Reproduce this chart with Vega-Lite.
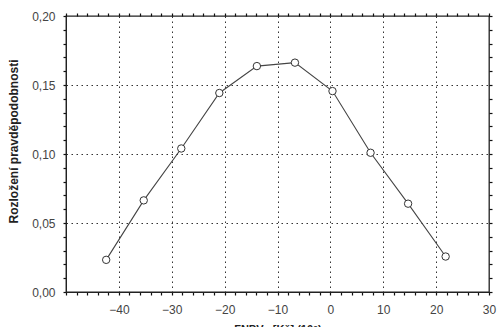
{
  "$schema": "https://vega.github.io/schema/vega-lite/v6.json",
  "width": 423,
  "height": 276,
  "autosize": "none",
  "padding": {"left": 66, "top": 16, "right": 8, "bottom": 36},
  "background": "white",
  "title": {"text": "Rozložení pravděpodobnosti FNPVc", "fontSize": 13, "font": "Liberation Sans", "fontWeight": "bold", "offset": 11, "dx": -24, "color": "#111"},
  "config": {
    "view": {"stroke": "#222", "strokeWidth": 1.3},
    "axis": {"domainColor": "#222", "tickColor": "#111", "tickWidth": 1.2, "gridColor": "#333", "gridDash": [1.5, 3.5], "gridWidth": 1, "labelFont": "Liberation Sans", "labelFontSize": 12, "labelColor": "#444", "titleFont": "Liberation Sans", "titleFontSize": 11, "titleFontWeight": "bold", "titleColor": "#222"}
  },
  "data": {"values": [
    {"x": -42.4, "p": 0.0233},
    {"x": -35.3, "p": 0.0664},
    {"x": -28.2, "p": 0.104},
    {"x": -21.0, "p": 0.1442},
    {"x": -13.9, "p": 0.1637},
    {"x": -6.7, "p": 0.1662},
    {"x": 0.4, "p": 0.1456},
    {"x": 7.6, "p": 0.1009},
    {"x": 14.7, "p": 0.064},
    {"x": 21.8, "p": 0.0257}
  ]},
  "resolve": {"axis": {"x": "independent", "y": "independent"}},
  "layer": [
    {
      "mark": {"type": "line", "color": "#444", "strokeWidth": 1.1},
      "encoding": {
        "x": {"field": "x", "type": "quantitative", "scale": {"domain": [-50, 30], "nice": false, "zero": false},
          "axis": {"orient": "bottom", "title": "FNPVc [Kč] (10⁶)", "titleY": 31, "titleBaseline": "top",
            "values": [-50,-48,-46,-44,-42,-40,-38,-36,-34,-32,-30,-28,-26,-24,-22,-20,-18,-16,-14,-12,-10,-8,-6,-4,-2,0,2,4,6,8,10,12,14,16,18,20,22,24,26,28,30],
            "labelExpr": "(datum.value % 10 == 0 && datum.value > -50) ? datum.label : ''",
            "labelPadding": 9, "labelFlush": false, "labelOverlap": false,
            "grid": true,
            "gridOpacity": {"condition": {"test": "datum.value % 10 == 0 && datum.value > -50 && datum.value < 30", "value": 1}, "value": 0},
            "tickSize": 3}},
        "y": {"field": "p", "type": "quantitative", "scale": {"domain": [0, 0.2], "nice": false},
          "axis": {"orient": "left", "title": "Rozložení pravděpodobnosti", "titleX": -46, "titleY": 125, "titleFontSize": 12,
            "values": [0,0.01,0.02,0.03,0.04,0.05,0.06,0.07,0.08,0.09,0.1,0.11,0.12,0.13,0.14,0.15,0.16,0.17,0.18,0.19,0.2],
            "labelExpr": "(round(datum.value*100) % 5 == 0) ? replace(format(datum.value, '.2f'), '.', ',') : ''",
            "labelPadding": 8, "labelFlush": false, "labelOverlap": false,
            "grid": true,
            "gridOpacity": {"condition": {"test": "round(datum.value*100) % 5 == 0 && datum.value > 0 && datum.value < 0.2", "value": 1}, "value": 0},
            "tickSize": 3}}
      }
    },
    {
      "mark": {"type": "line", "strokeOpacity": 0},
      "encoding": {
        "x": {"field": "x", "type": "quantitative",
          "axis": {"orient": "top", "title": null, "labels": false, "grid": false, "domain": false,
            "values": [-50,-48,-46,-44,-42,-40,-38,-36,-34,-32,-30,-28,-26,-24,-22,-20,-18,-16,-14,-12,-10,-8,-6,-4,-2,0,2,4,6,8,10,12,14,16,18,20,22,24,26,28,30],
            "tickSize": 3}},
        "y": {"field": "p", "type": "quantitative",
          "axis": {"orient": "right", "title": null, "labels": false, "grid": false, "domain": false,
            "values": [0,0.01,0.02,0.03,0.04,0.05,0.06,0.07,0.08,0.09,0.1,0.11,0.12,0.13,0.14,0.15,0.16,0.17,0.18,0.19,0.2],
            "tickSize": 3}}
      }
    },
    {
      "mark": {"type": "point", "shape": "circle", "size": 55, "stroke": "#333", "strokeWidth": 1, "fill": "white", "filled": false, "fillOpacity": 1},
      "encoding": {
        "x": {"field": "x", "type": "quantitative", "axis": null},
        "y": {"field": "p", "type": "quantitative", "axis": null}
      }
    }
  ]
}
